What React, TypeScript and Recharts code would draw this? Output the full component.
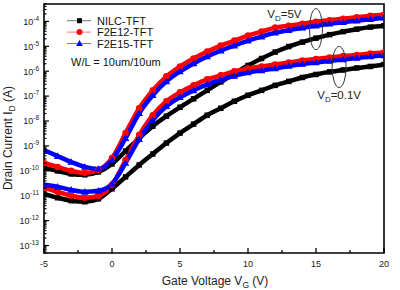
import React from 'react';
import { LineChart, Line, XAxis, YAxis, ReferenceArea, ReferenceDot } from 'recharts';

// Gate voltage sweep (V)
const gateVoltage = [-5, -4, -3, -2, -1, 0, 1, 2, 3, 4, 5, 6, 7, 8, 9, 10, 11, 12, 13, 14, 15, 16, 17, 18, 19, 20];

// Drain current (A) at VD = 5 V
const nilcHigh = [1.30e-10, 9.9e-11, 7.5e-11, 6.9e-11, 9.0e-11, 1.88e-10, 6.2e-10, 2.06e-9, 6.2e-9, 1.56e-8, 3.56e-8, 7.8e-8, 1.70e-7, 3.72e-7, 8.1e-7, 1.70e-6, 3.24e-6, 5.9e-6, 9.8e-6, 1.48e-5, 2.13e-5, 2.94e-5, 3.88e-5, 4.88e-5, 5.9e-5, 6.7e-5];
const f2e12High = [2.07e-10, 1.43e-10, 9.9e-11, 8.2e-11, 1.08e-10, 3.27e-10, 3.27e-9, 3.25e-8, 1.70e-7, 6.2e-7, 1.55e-6, 3.24e-6, 6.2e-6, 1.07e-5, 1.69e-5, 2.68e-5, 3.88e-5, 5.6e-5, 6.7e-5, 8.1e-5, 9.7e-5, 1.12e-4, 1.28e-4, 1.47e-4, 1.69e-4, 1.85e-4];
const f2e15High = [6.8e-10, 3.9e-10, 2.26e-10, 1.43e-10, 1.19e-10, 2.72e-10, 2.06e-9, 2.06e-8, 1.08e-7, 3.9e-7, 9.8e-7, 2.04e-6, 3.9e-6, 6.7e-6, 1.07e-5, 1.69e-5, 2.45e-5, 3.54e-5, 4.45e-5, 5.6e-5, 6.7e-5, 8.1e-5, 9.3e-5, 1.07e-4, 1.22e-4, 1.41e-4];

// Drain current (A) at VD = 0.1 V
const nilcLow = [1.19e-11, 8.3e-12, 6.3e-12, 5.7e-12, 7.5e-12, 1.89e-11, 5.7e-11, 1.72e-10, 4.73e-10, 1.30e-9, 3.27e-9, 7.5e-9, 1.71e-8, 3.25e-8, 6.2e-8, 1.08e-7, 1.70e-7, 2.70e-7, 3.9e-7, 5.6e-7, 7.4e-7, 9.4e-7, 1.12e-6, 1.35e-6, 1.55e-6, 1.86e-6];
const f2e12Low = [2.07e-11, 1.43e-11, 9.9e-12, 8.3e-12, 9.9e-12, 2.73e-11, 2.72e-10, 2.72e-9, 1.71e-8, 6.2e-8, 1.42e-7, 2.70e-7, 4.69e-7, 6.8e-7, 9.8e-7, 1.29e-6, 1.55e-6, 1.86e-6, 2.24e-6, 2.69e-6, 3.09e-6, 3.55e-6, 4.07e-6, 4.47e-6, 5.1e-6, 5.6e-6];
const f2e15Low = [2.73e-11, 2.27e-11, 1.72e-11, 1.43e-11, 1.57e-11, 2.99e-11, 2.07e-10, 1.88e-9, 1.08e-8, 3.91e-8, 8.95e-8, 1.70e-7, 2.96e-7, 4.48e-7, 6.5e-7, 8.9e-7, 1.07e-6, 1.29e-6, 1.62e-6, 1.95e-6, 2.24e-6, 2.57e-6, 2.95e-6, 3.39e-6, 3.89e-6, 4.27e-6];

// Axis ticks
const xMajorTicks = [-5, 0, 5, 10, 15, 20];
const xMinorTicks = [-2.5, 2.5, 7.5, 12.5, 17.5];
const yDecadeTicks = [1e-13, 1e-12, 1e-11, 1e-10, 1e-9, 1e-8, 1e-7, 1e-6, 1e-5, 1e-4];
const xDomain: [number, number] = [-5, 20];
const yDomain: [number, number] = [5e-14, 5e-4];

// Legend labels and notes
const deviceNames = ['NILC-TFT', 'F2E12-TFT', 'F2E15-TFT'];
const deviceColors = ['#000000', '#ff0000', '#0000ff'];
const deviceMarkers = ['square', 'circle', 'triangle'];
const geometryNote = 'W/L = 10um/10um';

const FONT = '"Liberation Sans", Arial, Helvetica, sans-serif';

const rows = gateVoltage.map((vg, i) => ({
  vg,
  nilcHigh: nilcHigh[i],
  f2e12High: f2e12High[i],
  f2e15High: f2e15High[i],
  nilcLow: nilcLow[i],
  f2e12Low: f2e12Low[i],
  f2e15Low: f2e15Low[i],
}));

// minor log ticks (2..9 x 10^n) inside the y domain
const yMinorTicks: number[] = [];
[1e-14, ...yDecadeTicks].forEach((d) => {
  for (let k = 2; k <= 9; k++) {
    const v = k * d;
    if (v >= yDomain[0] && v <= yDomain[1]) yMinorTicks.push(v);
  }
});
const yAllTicks = [...yDecadeTicks, ...yMinorTicks].sort((a, b) => a - b);
const xAllTicks = [...xMajorTicks, ...xMinorTicks].sort((a, b) => a - b);

function Marker({ kind, cx, cy, color, scale = 1 }: { kind: string; cx: number; cy: number; color: string; scale?: number }) {
  if (kind === 'square') {
    const s = 5 * scale;
    return <rect x={cx - s / 2} y={cy - s / 2} width={s} height={s} fill={color} />;
  }
  if (kind === 'circle') {
    return <circle cx={cx} cy={cy} r={3 * scale} fill={color} />;
  }
  const h = 3.4 * scale;
  return <path d={`M${cx},${cy - h} L${cx + h},${cy + h * 0.75} L${cx - h},${cy + h * 0.75} Z`} fill={color} />;
}

const XTick = (props: any) => {
  const { x, y, payload } = props;
  const v = payload.value;
  const major = xMajorTicks.includes(v);
  return (
    <g>
      <line x1={x} x2={x} y1={y} y2={y - (major ? 5 : 3)} stroke="#000" strokeWidth={1.3} />
      {major && (
        <text x={x} y={y + 14} textAnchor="middle" fontSize={9} fill="#222" fontFamily={FONT}>
          {v}
        </text>
      )}
    </g>
  );
};

const YTick = (props: any) => {
  const { x, y, payload } = props;
  const v = payload.value;
  const exp = Math.round(Math.log10(v));
  const major = Math.abs(v - Math.pow(10, exp)) < v * 1e-6;
  return (
    <g>
      <line x1={x} x2={x + (major ? 5 : 2.5)} y1={y} y2={y} stroke="#000" strokeWidth={1.2} />
      {major && (
        <text x={x - 5} y={y + 3.3} textAnchor="end" fontSize={9} fill="#222" fontFamily={FONT}>
          10
          <tspan dy={-4} fontSize={6.5}>{exp}</tspan>
        </text>
      )}
    </g>
  );
};

const seriesList = [
  { key: 'nilcLow', dev: 0 },
  { key: 'nilcHigh', dev: 0 },
  { key: 'f2e12Low', dev: 1 },
  { key: 'f2e12High', dev: 1 },
  { key: 'f2e15Low', dev: 2 },
  { key: 'f2e15High', dev: 2 },
];

const HighBiasNote = (p: any) => (
  <g>
    <ellipse cx={p.cx} cy={p.cy} rx={6.5} ry={20.5} fill="none" stroke="#333" strokeWidth={1} />
    <text x={p.cx - 14.5} y={p.cy - 11.5} textAnchor="end" fontSize={11.5} fill="#222" fontFamily={FONT}>
      V<tspan dy={3} fontSize={8}>D</tspan>
      <tspan dy={-3}>=5V</tspan>
    </text>
  </g>
);

const LowBiasNote = (p: any) => (
  <g>
    <ellipse cx={p.cx} cy={p.cy} rx={7} ry={20.5} fill="none" stroke="#333" strokeWidth={1} />
    <text x={p.cx} y={p.cy + 32.5} textAnchor="middle" fontSize={11.5} fill="#222" fontFamily={FONT}>
      V<tspan dy={3} fontSize={8}>D</tspan>
      <tspan dy={-3}>=0.1V</tspan>
    </text>
  </g>
);

export default function App() {
  return (
    <div style={{ position: 'absolute', left: 0, top: 0, width: 400, height: 290, background: '#fff', fontFamily: FONT }}>
      <LineChart width={400} height={290} data={rows} margin={{ top: 4, right: 16, bottom: 0, left: 0 }}>
        <XAxis
          dataKey="vg"
          type="number"
          domain={xDomain}
          ticks={xAllTicks}
          interval={0}
          allowDataOverflow
          height={37}
          tickSize={0}
          tickMargin={0}
          tickLine={false}
          axisLine={false}
          tick={<XTick />}
        />
        <YAxis
          type="number"
          scale="log"
          domain={yDomain}
          ticks={yAllTicks}
          interval={0}
          allowDataOverflow
          width={44}
          tickSize={0}
          tickMargin={0}
          tickLine={false}
          axisLine={false}
          tick={<YTick />}
        />
        {seriesList.map((s) => {
          const color = deviceColors[s.dev];
          const kind = deviceMarkers[s.dev];
          return (
            <Line
              key={s.key}
              dataKey={s.key}
              type="monotone"
              stroke={color}
              strokeWidth={4.5}
              isAnimationActive={false}
              dot={(p: any) => <Marker key={`${s.key}-${p.index}`} kind={kind} cx={p.cx} cy={p.cy} color={color} scale={1.1} />}
              activeDot={false}
            />
          );
        })}
        <ReferenceDot x={15} y={4.88e-5} r={0} ifOverflow="visible" shape={HighBiasNote} />
        <ReferenceDot x={16.7} y={1.48e-6} r={0} ifOverflow="visible" shape={LowBiasNote} />
        <ReferenceArea x1={xDomain[0]} x2={xDomain[1]} y1={yDomain[0]} y2={yDomain[1]} ifOverflow="visible" fill="none" stroke="#000" strokeWidth={1.6} />
      </LineChart>
      <svg width={400} height={290} style={{ position: 'absolute', left: 0, top: 0, pointerEvents: 'none' }}>
        {deviceNames.map((name, i) => {
          const cy = 20.7 + i * 11.4;
          return (
            <g key={name}>
              <line x1={67} x2={91} y1={cy} y2={cy} stroke={deviceColors[i]} strokeOpacity={0.55} strokeWidth={1} />
              <Marker kind={deviceMarkers[i]} cx={79.5} cy={cy} color={deviceColors[i]} />
              <text x={97} y={cy + 4} fontSize={11} fill="#111" fontFamily={FONT}>
                {name}
              </text>
            </g>
          );
        })}
        <text x={71} y={65.7} fontSize={11} fill="#111" fontFamily={FONT}>
          {geometryNote}
        </text>
        <text x={215} y={285} textAnchor="middle" fontSize={12} fill="#222" fontFamily={FONT}>
          Gate Voltage V<tspan dy={3} fontSize={8.5}>G</tspan>
          <tspan dy={-3}> (V)</tspan>
        </text>
        <text transform="rotate(-90)" x={-138} y={12} textAnchor="middle" fontSize={12} fill="#222" fontFamily={FONT}>
          Drain Current I<tspan dy={3} fontSize={8.5}>D</tspan>
          <tspan dy={-3}> (A)</tspan>
        </text>
      </svg>
    </div>
  );
}
